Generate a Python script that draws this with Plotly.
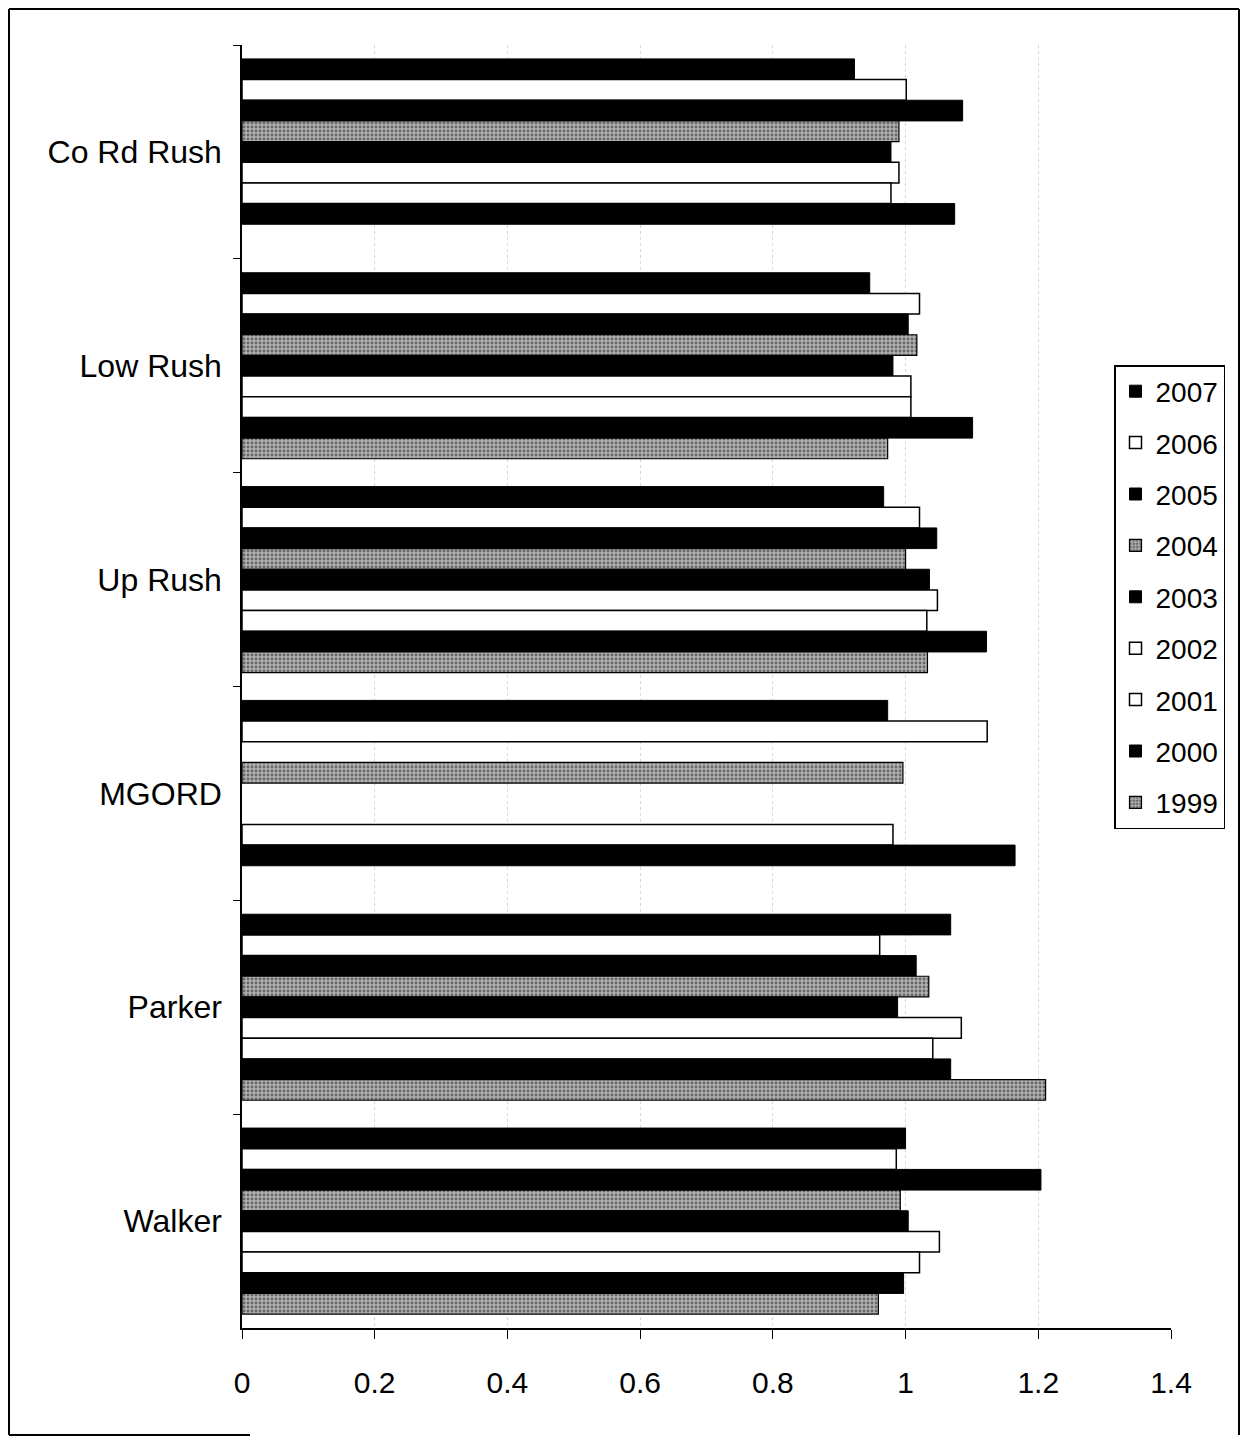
import plotly.graph_objects as go

categories = ["Co Rd Rush", "Low Rush", "Up Rush", "MGORD", "Parker", "Walker"]
years = ["2007", "2006", "2005", "2004", "2003", "2002", "2001", "2000", "1999"]

v2007 = [0.923, 0.946, 0.967, 0.973, 1.068, 1.000]
v2006 = [1.001, 1.021, 1.021, 1.123, 0.961, 0.986]
v2005 = [1.086, 1.004, 1.047, None, 1.016, 1.204]
v2004 = [0.990, 1.017, 1.000, 0.996, 1.035, 0.992]
v2003 = [0.978, 0.981, 1.036, None, 0.988, 1.004]
v2002 = [0.990, 1.008, 1.048, None, 1.084, 1.051]
v2001 = [0.978, 1.008, 1.032, 0.981, 1.041, 1.021]
v2000 = [1.074, 1.101, 1.122, 1.165, 1.068, 0.997]
v1999 = [None, 0.973, 1.033, None, 1.211, 0.959]

series = [v2007, v2006, v2005, v2004, v2003, v2002, v2001, v2000, v1999]
styles = ["black", "white", "black", "gray", "black", "white", "white", "black", "gray"]

FONT = "Liberation Sans, Arial, sans-serif"

fig = go.Figure()
for name, vals, st in zip(years, series, styles):
    if st == "black":
        marker = dict(color="#000000", line=dict(color="#000000", width=1))
    elif st == "white":
        marker = dict(color="#ffffff", line=dict(color="#000000", width=1.5))
    else:
        marker = dict(color="#a8a8a8", line=dict(color="#000000", width=1.2),
                      pattern=dict(shape=".", fgcolor="#1e1e1e", bgcolor="#b0b0b0",
                                   size=4, solidity=0.4, fillmode="overlay"))
    fig.add_trace(go.Bar(y=categories, x=vals, name=name, orientation="h",
                         marker=marker, legendgroup=name))

# page body has an 8px margin: shift all pixel positions by -8 and keep the
# figure small enough that the page does not scroll
OFF = 8
W, H = 1248 - 2 * OFF, 1444 - 2 * OFF
L, R, T, B = 242 - OFF, 1171 - OFF, 45 - OFF, 1328 - OFF

def px(x):
    return (x - OFF - L) / (R - L)

def py(y):
    return (B - (y - OFF)) / (B - T)

frame = [
    (9, 9, 1239, 9),
    (9, 9, 9, 1435),
    (1239, 9, 1239, 1435),
    (9, 1435, 250, 1435),
]
shapes = [dict(type="line", xref="paper", yref="paper", x0=px(a), y0=py(b), x1=px(c), y1=py(d),
               line=dict(color="#000000", width=2)) for a, b, c, d in frame]

fig.update_layout(
    width=W, height=H,
    margin=dict(l=L, r=W - R, t=T, b=H - B),
    paper_bgcolor="white", plot_bgcolor="white",
    barmode="group", bargap=0.13, bargroupgap=0,
    font=dict(family=FONT, color="#000000", size=28),
    showlegend=True,
    legend=dict(x=px(1114), y=py(365), xanchor="left", yanchor="top",
                bgcolor="white", bordercolor="#000000", borderwidth=1.5,
                font=dict(family=FONT, size=28, color="#000000"),
                traceorder="grouped", tracegroupgap=12, itemwidth=30),
    shapes=shapes,
)

fig.update_xaxes(range=[0, 1.4], dtick=0.2, tick0=0,
                 showline=True, linecolor="#000000", linewidth=1.5,
                 ticks="outside", ticklen=9, tickcolor="#000000", tickwidth=1.2,
                 showgrid=True, gridcolor="#d8d8d8", griddash="dot", gridwidth=1,
                 zeroline=False, tickfont=dict(family=FONT, size=30),
                 ticklabelstandoff=18, fixedrange=True)

fig.update_yaxes(autorange="reversed", type="category",
                 showline=True, linecolor="#000000", linewidth=1.5,
                 ticks="outside", tickson="boundaries", ticklen=7,
                 tickcolor="#000000", tickwidth=1.2,
                 showgrid=False, tickfont=dict(family=FONT, size=32),
                 ticklabelstandoff=12, fixedrange=True)

fig.write_html("out.html")
